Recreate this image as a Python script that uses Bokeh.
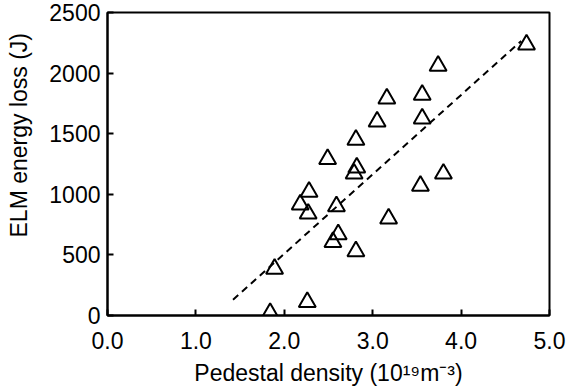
from bokeh.plotting import figure
from bokeh.models import Range1d, FixedTicker, PrintfTickFormatter, ColumnDataSource
from bokeh.embed import file_html
from bokeh.resources import INLINE

# data
density = [1.84, 2.26, 1.89, 2.18, 2.27, 2.28, 2.49, 2.59, 2.61, 2.55, 2.81, 2.79,
           2.82, 2.81, 3.05, 3.16, 3.18, 3.54, 3.80, 3.56, 3.56, 3.74, 4.74]
energy = [20, 110, 385, 915, 840, 1020, 1290, 900, 670, 605, 530, 1170,
          1220, 1450, 1600, 1790, 800, 1070, 1170, 1625, 1820, 2060, 2235]
fit_x = [1.42, 4.68]
fit_y = [130, 2265]
x_ticks = [0, 1, 2, 3, 4, 5]
y_ticks = [0, 500, 1000, 1500, 2000, 2500]
x_title = "Pedestal density (10\u00b9\u2079m\u207b\u00b3)"
y_title = "ELM energy loss (J)"

FONT = "Liberation Sans"
FS = 23

p = figure(width=569, height=392, output_backend="svg", toolbar_location=None,
           x_range=Range1d(0, 5), y_range=Range1d(0, 2500),
           min_border_left=107, min_border_right=20, min_border_top=12, min_border_bottom=77)
p.background_fill_color = "white"
p.border_fill_color = "white"
p.outline_line_color = "black"
p.outline_line_width = 2
p.xgrid.visible = False
p.ygrid.visible = False

for ax in (p.xaxis[0], p.yaxis[0]):
    ax.axis_line_width = 2
    ax.axis_line_color = "black"
    ax.major_tick_in = 6
    ax.major_tick_out = 0
    ax.major_tick_line_width = 2
    ax.minor_tick_line_color = None
    ax.major_label_text_font = FONT
    ax.major_label_text_font_size = f"{FS}px"
    ax.major_label_text_color = "black"
    ax.axis_label_text_font = FONT
    ax.axis_label_text_font_size = f"{FS}px"
    ax.axis_label_text_font_style = "normal"
    ax.axis_label_text_color = "black"

p.xaxis[0].ticker = FixedTicker(ticks=x_ticks)
p.xaxis[0].formatter = PrintfTickFormatter(format="%.1f")
p.xaxis[0].major_label_standoff = 16
p.xaxis[0].axis_label = x_title
p.xaxis[0].axis_label_standoff = 8
p.yaxis[0].ticker = FixedTicker(ticks=y_ticks)
p.yaxis[0].major_label_standoff = 7
p.yaxis[0].axis_label = "\u00a0" * 9 + y_title
p.yaxis[0].axis_label_standoff = 14

src = ColumnDataSource(dict(x=density, y=energy))
p.line(fit_x, fit_y, line_color="black", line_width=2, line_dash="7 5")
p.scatter("x", "y", source=src, marker="triangle", size=17, fill_color=None,
          line_color="black", line_width=2)

open("out.html", "w").write(file_html(p, INLINE))
